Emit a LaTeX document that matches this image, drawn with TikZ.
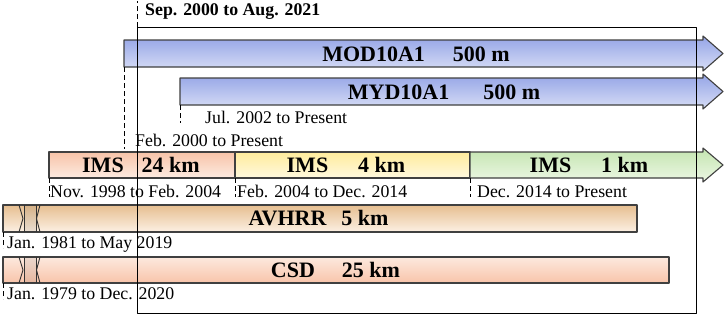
\documentclass[tikz,border=0pt]{standalone}
\usepackage{fontspec}
\setmainfont{Liberation Serif}
\definecolor{bluetop}{HTML}{94A4E6} \definecolor{bluebot}{HTML}{D8DEF6}
\definecolor{peachtop}{HTML}{F7C3A8} \definecolor{peachbot}{HTML}{FDEBE1}
\definecolor{yeltop}{HTML}{FFEC9C} \definecolor{yelbot}{HTML}{FFF9DE}
\definecolor{greentop}{HTML}{C4E5B0} \definecolor{greenbot}{HTML}{ECF7E4}
\definecolor{tantop}{HTML}{E6BE90} \definecolor{tanbot}{HTML}{FCF0E3}
\definecolor{csdtop}{HTML}{FDE9DE} \definecolor{csdbot}{HTML}{F8C4AA}
% arrow bar: name, left x, top y, bottom y, shading
\newcommand{\timearrow}[5]{%
	\shade[bar,#5] (#2,#3) -- (703,#3) -- (703,#3-4) -- (723,{(#3+#4)/2}) -- (703,#4+4) -- (703,#4) -- (#2,#4) -- cycle;
	\coordinate (#1-sw) at (#2,#4);}
% plain bar: name, left x, right x, top y, bottom y, shading
\newcommand{\timebar}[6]{%
	\shade[bar,#6] (#2,#4) rectangle (#3,#5);
	\coordinate (#1-sw) at (#2,#5);}
\begin{document}
\begin{tikzpicture}[x=1pt,y=-1pt, line join=round,
	bar/.style={draw=black!75, line width=1.1pt},
	barlab/.style={font=\fontsize{22}{24}\selectfont\bfseries, inner sep=0pt, anchor=base},
	date/.style={font=\fontsize{17.8}{20}\selectfont, inner sep=0pt, anchor=base west},
	tick/.style={dash pattern=on 5pt off 3pt, line width=0.8pt}]
	\useasboundingbox (0,0) rectangle (726,316);
	% MODIS
	\timearrow{mod}{124}{40}{67}{top color=bluetop, bottom color=bluebot}
	\timearrow{myd}{180}{78}{105}{top color=bluetop, bottom color=bluebot}
	% IMS
	\timebar{ims1}{49}{235}{152}{178}{top color=peachtop, bottom color=peachbot}
	\timebar{ims2}{235}{470}{152}{178}{top color=yeltop, bottom color=yelbot}
	\timearrow{ims3}{470}{152}{178}{top color=greentop, bottom color=greenbot}
	% AVHRR, CSD
	\timebar{avhrr}{3}{637}{205}{232}{top color=tantop, bottom color=tanbot}
	\timebar{csd}{3}{669}{257}{283}{top color=csdtop, bottom color=csdbot}
	\foreach \t/\b in {205/232, 257/283}{
		\fill[black, opacity=.07] (24,\t) rectangle (36,\b);
		\draw[black!80, line width=0.9pt] (19,\t) -- (23,{(\t+\b)/2}) -- (19,\b);
		\draw[black!80, line width=0.9pt] (24,\t) -- (24,\b) (36,\t) -- (36,\b);
		\draw[black!80, line width=0.9pt] (40,\t) -- (36.5,{(\t+\b)/2}) -- (40,\b);
	}
	% labels
	\node[barlab] (mod) at (416,61) {MOD10A1\hspace{28pt}500 m};
	\node[barlab] (myd) at (444,99) {MYD10A1\hspace{34pt}500 m};
	\node[barlab] (ims-a) at (141,172) {IMS\hspace{18pt}24 km};
	\node[barlab] (ims-b) at (346,172) {IMS\hspace{30pt}4 km};
	\node[barlab] (ims-c) at (589,172) {IMS\hspace{30pt}1 km};
	\node[barlab] (avhrr-l) at (318.5,225.5) {AVHRR\hspace{15pt}5 km};
	\node[barlab] (csd-l) at (335.5,277) {CSD\hspace{27pt}25 km};
	\node[date, font=\fontsize{17.8}{20}\selectfont\bfseries] (t-all) at (145,15.5) {Sep. 2000 to Aug. 2021};
	\node[date] (t-myd) at (205,123) {Jul. 2002 to Present};
	\node[date] (t-mod) at (135,146) {Feb. 2000 to Present};
	\node[date] (t-ims1) at (50,197) {Nov. 1998 to Feb. 2004};
	\node[date] (t-ims2) at (237,197) {Feb. 2004 to Dec. 2014};
	\node[date] (t-ims3) at (477,197) {Dec. 2014 to Present};
	\node[date] (t-avhrr) at (7,248) {Jan. 1981 to May 2019};
	\node[date] (t-csd) at (7,299) {Jan. 1979 to Dec. 2020};
	% study period
	\node[draw, line width=1.3pt, minimum width=559pt, minimum height=286pt, inner sep=0pt, anchor=north west] (period) at (137,27) {};
	\draw[tick] (period.north west) -- ++(0,-26);
	\draw[tick] (mod-sw) -- ++(0,82);
	\draw[tick] (myd-sw) -- ++(0,18);
	\foreach \n in {ims1,ims2,ims3} \draw[tick] (\n-sw) -- ++(0,19);
	\foreach \n in {avhrr,csd} \draw[tick] (\n-sw) -- ++(0,16);
\end{tikzpicture}
\end{document}
